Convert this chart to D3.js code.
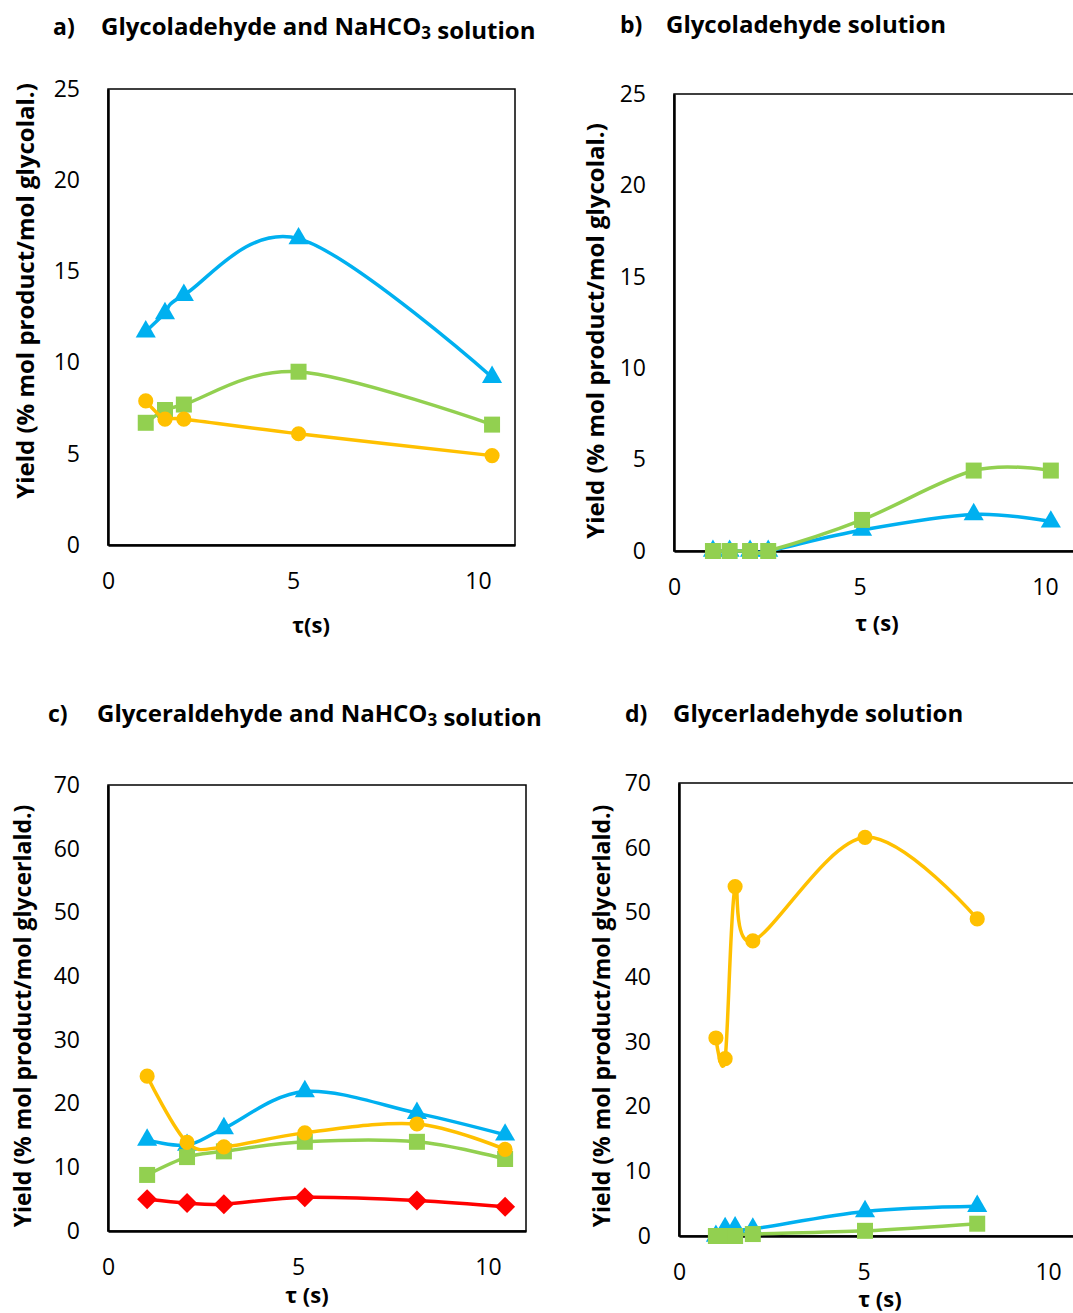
<!DOCTYPE html>
<html>
<head>
<meta charset="utf-8">
<script src="https://cdn.jsdelivr.net/npm/d3@7"></script>
<style>
  body { margin: 0; background: #fff; }
  svg text { font-family: "Open Sans", sans-serif; fill: #000; }
</style>
</head>
<body>
<div id="chart"></div>
<script>
// residence time (s) and yields
var tauA = [1.02, 1.54, 2.05, 5.15, 10.38];
var aBlue = [11.7, 12.7, 13.7, 16.8, 9.2];
var aGreen = [6.7, 7.4, 7.7, 9.5, 6.6];
var aOrange = [7.9, 6.9, 6.9, 6.1, 4.9];

var tauB = [1.05, 1.5, 2.05, 2.54, 5.07, 8.08, 10.16];
var bBlue = [0, 0, 0, 0, 1.15, 2.0, 1.6];
var bGreen = [0, 0, 0, 0, 1.7, 4.4, 4.4];

var tauC = [1.03, 2.08, 3.05, 5.18, 8.13, 10.45];
var cBlue = [14.3, 13.5, 16.1, 21.9, 18.5, 15.1];
var cGreen = [8.8, 11.6, 12.5, 14.0, 14.0, 11.3];
var cOrange = [24.3, 13.9, 13.2, 15.4, 16.8, 12.8];
var cRed = [5.0, 4.4, 4.2, 5.3, 4.8, 3.8];

var tauD = [1.0, 1.25, 1.52, 2.0, 5.04, 8.08];
var dBlue = [0, 1.2, 1.3, 1.1, 3.8, 4.6];
var dGreen = [0, 0, 0, 0.3, 0.8, 1.9];
var dOrange = [30.6, 27.4, 54.0, 45.6, 61.6, 49.0];

var xTicks = [0, 5, 10];
var yTicksGlycol = [0, 5, 10, 15, 20, 25];
var yTicksGlycer = [0, 10, 20, 30, 40, 50, 60, 70];

var BLUE = "#00B0F0", GREEN = "#92D050", ORANGE = "#FFC000", RED = "#FF0000";

var svg = d3.select("#chart").append("svg")
    .attr("width", 1073)
    .attr("height", 1313);

function marker(type) {
    if (type == "triangle") return d3.symbol().type(d3.symbolTriangle).size(175)();
    if (type == "square") return d3.symbol().type(d3.symbolSquare).size(256)();
    if (type == "circle") return d3.symbol().type(d3.symbolCircle).size(180)();
    return d3.symbol().type(d3.symbolSquare).size(200)(); // diamond = rotated square
}

function drawPanel(p) {
    var x = d3.scaleLinear().domain([0, 11]).range([p.left, p.right]);
    var y = d3.scaleLinear().domain([0, p.ymax]).range([p.bottom, p.top]);

    var g = svg.append("g");

    // plot frame
    g.append("rect")
        .attr("x", p.left).attr("y", p.top)
        .attr("width", p.right - p.left).attr("height", p.bottom - p.top)
        .attr("fill", "none").attr("stroke", "#000").attr("stroke-width", 1.5);

    var yAxis = d3.axisLeft(y).tickValues(p.yticks).tickSize(0).tickPadding(28);
    var xAxis = d3.axisBottom(x).tickValues(xTicks).tickSize(0).tickPadding(28);

    g.append("g").attr("transform", "translate(" + p.left + ",0)").call(yAxis)
        .call(a => a.select(".domain").attr("stroke", "#000").attr("stroke-width", 2.5));
    g.append("g").attr("transform", "translate(0," + p.bottom + ")").call(xAxis)
        .call(a => a.select(".domain").attr("stroke", "#000").attr("stroke-width", 2.5));
    g.selectAll(".tick text")
        .style("font-family", "'Open Sans', sans-serif")
        .style("font-size", "23px").attr("fill", "#000");

    var line = d3.line()
        .x(d => x(d[0]))
        .y(d => y(d[1]))
        .curve(d3.curveCardinal);

    p.series.forEach(function(s) {
        var pts = p.tau.map((t, i) => [t, s.values[i]]);
        g.append("path")
            .attr("d", line(pts))
            .attr("fill", "none")
            .attr("stroke", s.color)
            .attr("stroke-width", 3.5);
        g.selectAll(null)
            .data(pts)
            .enter()
            .append("path")
            .attr("d", marker(s.shape))
            .attr("transform", d => "translate(" + x(d[0]) + "," + y(d[1]) + ")" + (s.shape == "diamond" ? " rotate(45)" : ""))
            .attr("fill", s.color);
    });

    // panel title
    g.append("text")
        .attr("x", p.letterX).attr("y", p.titleY)
        .style("font-weight", "bold").style("font-size", "23px")
        .text(p.letter);
    var t = g.append("text")
        .attr("x", p.titleX).attr("y", p.titleY)
        .style("font-weight", "bold").style("font-size", "24px");
    p.title.forEach(function(part) {
        if (part.sub) {
            t.append("tspan").attr("dy", 4).style("font-size", "17px").text(part.sub);
            t.append("tspan").attr("dy", -4).text("");
        } else {
            t.append("tspan").text(part.text);
        }
    });

    // axis titles
    g.append("text")
        .attr("transform", "translate(" + p.yTitleX + "," + p.yTitleY + ") rotate(-90)")
        .attr("text-anchor", "middle")
        .attr("dominant-baseline", "middle")
        .style("font-weight", "bold").style("font-size", p.yTitleSize + "px")
        .text(p.yTitle);
    g.append("text")
        .attr("x", p.xTitleX).attr("y", p.xTitleY)
        .attr("text-anchor", "middle")
        .attr("dominant-baseline", "middle")
        .style("font-weight", "bold").style("font-size", "22px")
        .text(p.xTitle);
}

drawPanel({
    left: 108, right: 515, top: 89, bottom: 545, ymax: 25, yticks: yTicksGlycol,
    tau: tauA,
    series: [
        { values: aBlue, color: BLUE, shape: "triangle" },
        { values: aGreen, color: GREEN, shape: "square" },
        { values: aOrange, color: ORANGE, shape: "circle" }
    ],
    letter: "a)", letterX: 53, titleX: 101, titleY: 35,
    title: [{ text: "Glycoladehyde and NaHCO" }, { sub: "3" }, { text: " solution" }],
    yTitle: "Yield (% mol product/mol glycolal.)", yTitleX: 28, yTitleY: 291, yTitleSize: 24,
    xTitle: "τ(s)", xTitleX: 311, xTitleY: 627
});

drawPanel({
    left: 674, right: 1082, top: 94, bottom: 551, ymax: 25, yticks: yTicksGlycol,
    tau: tauB,
    series: [
        { values: bBlue, color: BLUE, shape: "triangle" },
        { values: bGreen, color: GREEN, shape: "square" }
    ],
    letter: "b)", letterX: 620, titleX: 666, titleY: 33,
    title: [{ text: "Glycoladehyde solution" }],
    yTitle: "Yield (% mol product/mol glycolal.)", yTitleX: 598, yTitleY: 331, yTitleSize: 24,
    xTitle: "τ (s)", xTitleX: 877, xTitleY: 625
});

drawPanel({
    left: 108, right: 526, top: 785, bottom: 1231, ymax: 70, yticks: yTicksGlycer,
    tau: tauC,
    series: [
        { values: cRed, color: RED, shape: "diamond" },
        { values: cBlue, color: BLUE, shape: "triangle" },
        { values: cGreen, color: GREEN, shape: "square" },
        { values: cOrange, color: ORANGE, shape: "circle" }
    ],
    letter: "c)", letterX: 48, titleX: 97, titleY: 722,
    title: [{ text: "Glyceraldehyde and NaHCO" }, { sub: "3" }, { text: " solution" }],
    yTitle: "Yield (% mol product/mol glycerlald.)", yTitleX: 25, yTitleY: 1016, yTitleSize: 23,
    xTitle: "τ (s)", xTitleX: 307, xTitleY: 1297
});

drawPanel({
    left: 679, right: 1085, top: 783, bottom: 1236, ymax: 70, yticks: yTicksGlycer,
    tau: tauD,
    series: [
        { values: dBlue, color: BLUE, shape: "triangle" },
        { values: dGreen, color: GREEN, shape: "square" },
        { values: dOrange, color: ORANGE, shape: "circle" }
    ],
    letter: "d)", letterX: 625, titleX: 673, titleY: 722,
    title: [{ text: "Glycerladehyde solution" }],
    yTitle: "Yield (% mol product/mol glycerlald.)", yTitleX: 604, yTitleY: 1016, yTitleSize: 23,
    xTitle: "τ (s)", xTitleX: 880, xTitleY: 1301
});
</script>
</body>
</html>
